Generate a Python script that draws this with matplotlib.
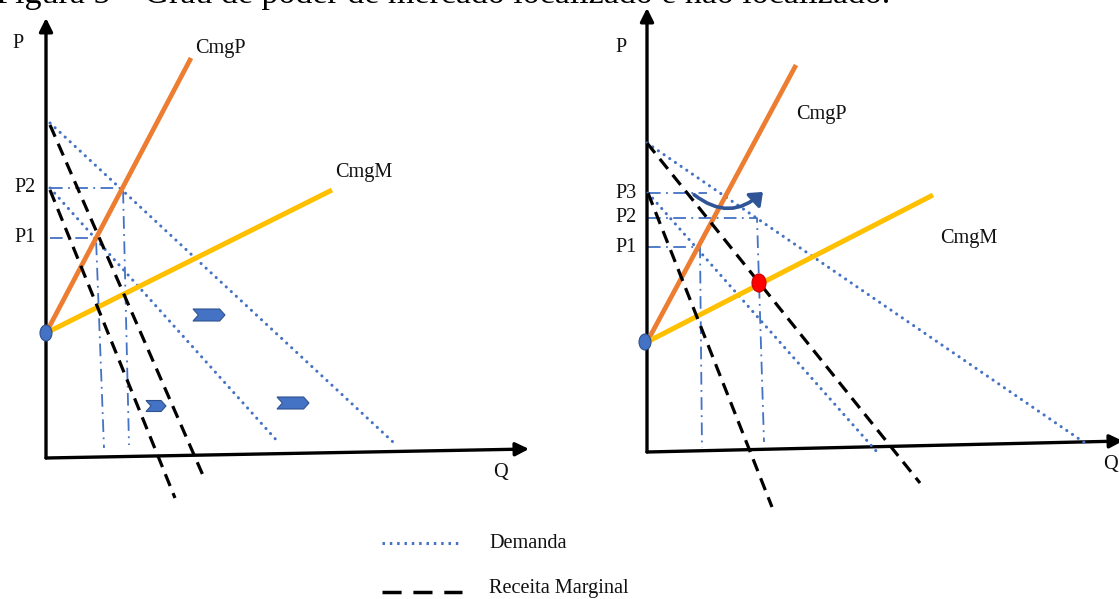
import matplotlib
matplotlib.use("Agg")
import matplotlib.pyplot as plt
from matplotlib.patches import Ellipse, Polygon, FancyArrowPatch

plt.rcParams['font.family'] = ['Liberation Serif', 'DejaVu Serif']

W, H = 1119, 599

orange = '#ED7D31'
yellow = '#FFC000'
blue = '#4472C4'
dkblue = '#2F528F'

# ---------------- data (Q, P), origin = axis corner
# left panel
l_cmgp = [(0, 125), (145, 400)]
l_cmgm = [(0, 125), (286, 268)]
l_demand = [[(4, 335), (347, 16)], [(4, 270), (233, 15)]]
l_rmg = [[(4, 333), (159, -22)], [(4, 268), (129, -40)]]
l_price_names = ['P1', 'P2']
l_price_levels = [220, 270]
l_price_q = [50, 77]
l_price_q_bottom = [58, 83]
l_price_p_bottom = [10, 13]
l_shift_q = [163, 110, 247]
l_shift_p = [143, 52, 55]
l_shift_w = [32, 20, 32]
l_shift_h = [12, 11, 12]
l_origin_cost = (0, 125)
l_ytip = (0, 440)
l_xtip = (483, 9)

# right panel
r_cmgp = [(0, 110), (149, 387)]
r_cmgm = [(0, 110), (286, 257)]
r_demand = [[(0, 309), (438, 9)], [(1, 259), (230, 0)]]
r_rmg = [[(1, 259), (125, -55)], [(0, 309), (273, -31)]]
r_price_names = ['P1', 'P2', 'P3']
r_price_levels = [205, 234, 259]
r_price_q = [53, 110, 60]
r_price_q_bottom = [55, 117, None]
r_price_p_bottom = [4, 10, None]
r_origin_cost = (-2, 110)
r_equilibrium = (112, 169)
r_arc = [(45, 259), (118, 262)]
r_ytip = (0, 444)
r_xtip = (476, 11)

legend_names = ['Demanda', 'Receita Marginal']
caption = 'Figura 5 \u2013 Grau de poder de mercado localizado e n\u00e3o localizado.'

fig = plt.figure(figsize=(W / 100, H / 100), dpi=100)
fig.patch.set_facecolor('white')


def panel(ox, oy):
    ax = fig.add_axes([0, 0, 1, 1])
    ax.set_xlim(-ox, W - ox)
    ax.set_ylim(-(H - oy), oy)
    ax.axis('off')
    ax.patch.set_alpha(0)
    return ax


def seg(ax, pts, **kw):
    xs = [p[0] for p in pts]
    ys = [p[1] for p in pts]
    ax.plot(xs, ys, **kw)


def axes_arrows(ax, xtip, ytip):
    for tip in (xtip, ytip):
        ax.annotate('', xy=tip, xytext=(0, 0),
                    arrowprops=dict(arrowstyle='-|>', lw=2.4, color='black',
                                    mutation_scale=20, shrinkA=0, shrinkB=0),
                    annotation_clip=False)


dotted = dict(color=blue, lw=2.2, linestyle=(0, (0.05, 2.2)),
              dash_capstyle='round', zorder=3)
dashed = dict(color='black', lw=2.3, linestyle=(0, (4, 2.4)), zorder=5)
guide = dict(color=blue, lw=1.3, linestyle=(0, (7, 3, 1, 3)), zorder=2)
txt = dict(fontsize=14.6, color='#111111')


def chevron(ax, cx, cy, w, h):
    d = h * 0.45
    pts = [(cx - w / 2, cy + h / 2), (cx + w / 2 - d, cy + h / 2), (cx + w / 2, cy),
           (cx + w / 2 - d, cy - h / 2), (cx - w / 2, cy - h / 2), (cx - w / 2 + d, cy)]
    ax.add_patch(Polygon(pts, closed=True, fc=blue, ec=dkblue, lw=0.8, zorder=6))


# ---------------- left panel
ax = panel(46, 458)
axes_arrows(ax, l_xtip, l_ytip)
for d in l_demand:
    seg(ax, d, **dotted)
for name, lvl, q, qb, pb in zip(l_price_names, l_price_levels, l_price_q,
                                l_price_q_bottom, l_price_p_bottom):
    seg(ax, [(4, lvl), (q, lvl), (qb, pb)], **guide)
    ax.text(-10, lvl, name, ha='right', va='center', **txt)
seg(ax, l_cmgp, color=orange, lw=3.4, solid_capstyle='butt', zorder=4)
seg(ax, l_cmgm, color=yellow, lw=3.6, solid_capstyle='butt', zorder=4)
for r in l_rmg:
    seg(ax, r, **dashed)
for q, p, w, h in zip(l_shift_q, l_shift_p, l_shift_w, l_shift_h):
    chevron(ax, q, p, w, h)
ax.add_patch(Ellipse(l_origin_cost, 12, 16, fc=blue, ec=dkblue, lw=0.8, zorder=7))
ax.text(-28, 415, 'P', ha='center', va='center', **txt)
ax.text(454, -15, 'Q', ha='center', va='center', **txt)
ax.text(l_cmgp[1][0] + 4, l_cmgp[1][1] + 10, 'CmgP', ha='left', va='center', **txt)
ax.text(l_cmgm[1][0] + 3, l_cmgm[1][1] + 18, 'CmgM', ha='left', va='center', **txt)

# ---------------- right panel
ax2 = panel(647, 452)
axes_arrows(ax2, r_xtip, r_ytip)
for d in r_demand:
    seg(ax2, d, **dotted)
for name, lvl, q, qb, pb in zip(r_price_names, r_price_levels, r_price_q,
                                r_price_q_bottom, r_price_p_bottom):
    pts = [(1, lvl), (q, lvl)]
    if qb is not None:
        pts.append((qb, pb))
    seg(ax2, pts, **guide)
    ax2.text(-10, lvl, name, ha='right', va='center', **txt)
seg(ax2, r_cmgp, color=orange, lw=3.4, solid_capstyle='butt', zorder=4)
seg(ax2, r_cmgm, color=yellow, lw=3.6, solid_capstyle='butt', zorder=4)
for r in r_rmg:
    seg(ax2, r, **dashed)
ax2.add_patch(Ellipse(r_origin_cost, 12, 16, fc=blue, ec=dkblue, lw=0.8, zorder=7))
ax2.add_patch(Ellipse(r_equilibrium, 14, 18, fc='#FF0000', ec='#C00000', lw=0.8, zorder=7))
ax2.add_patch(FancyArrowPatch(r_arc[0], r_arc[1], connectionstyle='arc3,rad=0.45',
                              arrowstyle='-|>,head_length=0.5,head_width=0.4',
                              mutation_scale=14, color='#2F5597', lw=2.6, zorder=8))
ax2.text(-26, 405, 'P', ha='center', va='center', **txt)
ax2.text(463, -13, 'Q', ha='center', va='center', **txt)
ax2.text(149, 338, 'CmgP', ha='left', va='center', **txt)
ax2.text(293, 214, 'CmgM', ha='left', va='center', **txt)

# ---------------- legend + caption (pixel space)
lg = fig.add_axes([0, 0, 1, 1])
lg.set_xlim(0, W)
lg.set_ylim(H, 0)
lg.axis('off')
lg.patch.set_alpha(0)
lg.plot([382, 458], [543, 543], color=blue, lw=2.2, linestyle=(0, (0.8, 1.6)),
        dash_capstyle='butt')
lg.plot([382, 462], [592, 592], color='black', lw=2.5, linestyle=(0, (5.5, 3.4)))
lg.text(489, 543, legend_names[0], ha='left', va='center', **txt)
lg.text(489, 589, legend_names[1], ha='left', va='center', **txt)
# caption line of the page, cut by the top edge as in the source picture
lg.text(-4, 3, caption, ha='left', va='baseline', fontsize=24.5, color='black',
        clip_on=False)

fig.savefig('out.png', dpi=100, facecolor='white')
